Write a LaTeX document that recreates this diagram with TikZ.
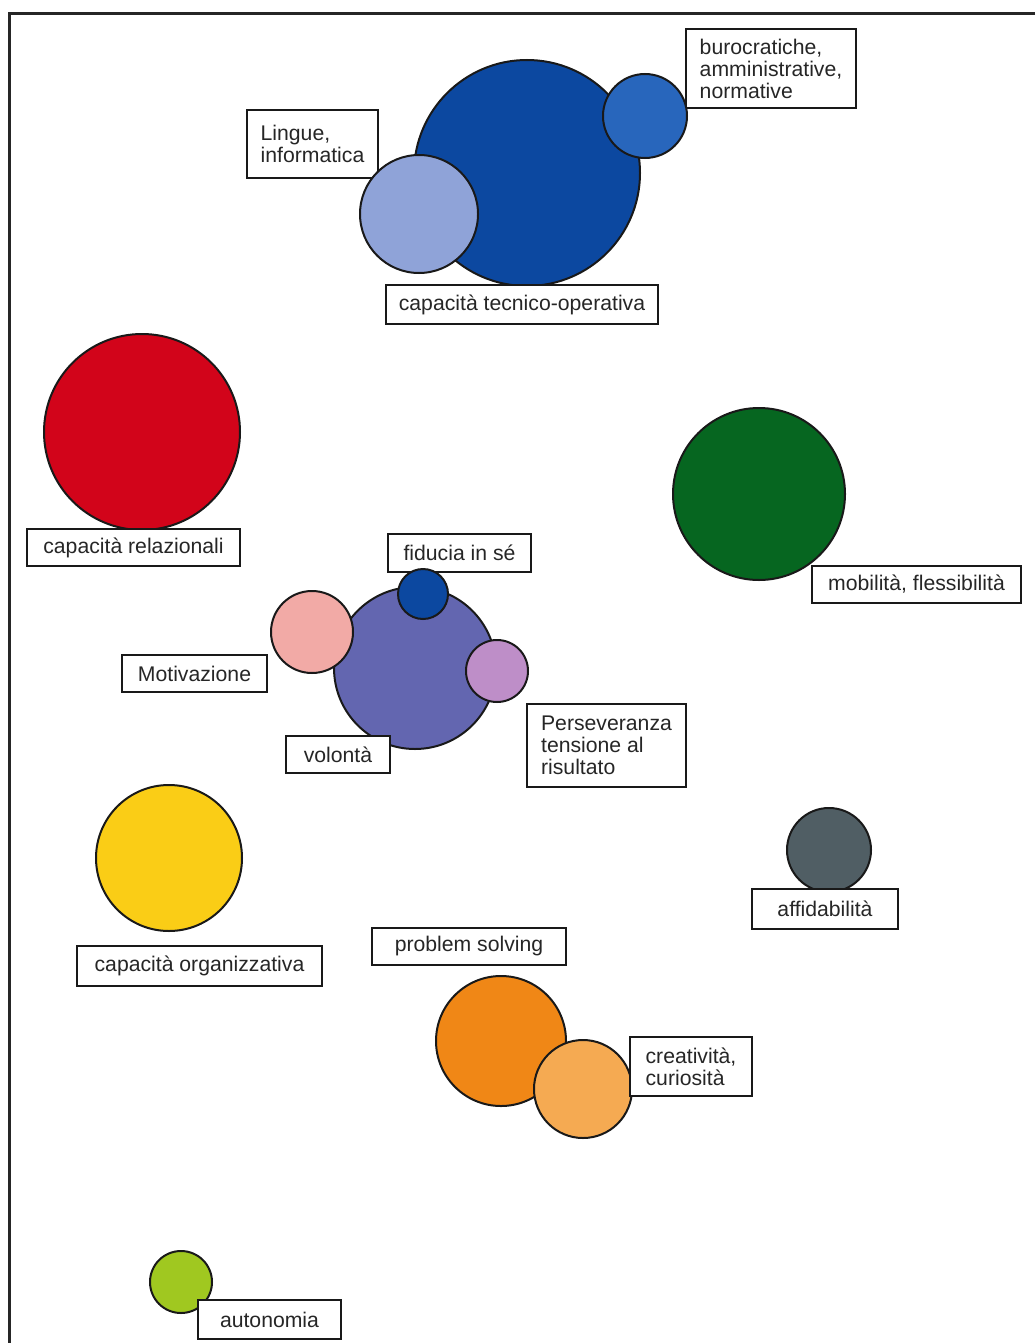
\documentclass[tikz,border=0pt]{standalone}
\usepackage{fontspec}
\setmainfont{Liberation Sans}
\usetikzlibrary{shapes,positioning}

\definecolor{techblue}{RGB}{12,72,160}
\definecolor{lightblue}{RGB}{143,163,216}
\definecolor{midblue}{RGB}{40,102,188}
\definecolor{relred}{RGB}{210,4,26}
\definecolor{mobgreen}{RGB}{6,102,32}
\definecolor{volpurple}{RGB}{99,102,176}
\definecolor{motpink}{RGB}{242,170,166}
\definecolor{perlilac}{RGB}{190,142,200}
\definecolor{orgyellow}{RGB}{250,205,22}
\definecolor{affgrey}{RGB}{80,94,100}
\definecolor{probcolor}{RGB}{240,135,22}
\definecolor{creacolor}{RGB}{245,170,82}
\definecolor{autlime}{RGB}{160,200,32}

\begin{document}
\begin{tikzpicture}[x=0.5pt,y=-0.5pt,
    bubble/.style={circle,draw=black!90,line width=1pt,inner sep=0pt},
    tag/.style={rectangle,draw=black!90,line width=1.1pt,fill=white,align=left,
        inner sep=0pt,text=black!85,font=\fontsize{10.6}{11}\selectfont}]
    \useasboundingbox (0,0) rectangle (1035,1343);

    % Frame
    \draw[line width=1.5pt,black!85] (1035,14) -- (9,14) -- (9,1343);

    % Capacita tecnico-operativa
    \node[bubble,fill=techblue,minimum size=113pt] (tecnica) at (527,173) {};
    \node[tag,minimum width=136pt,minimum height=19.5pt] (tecnicalbl) at (522,304.5) {capacità tecnico-operativa};
    \node[tag,minimum width=65.5pt,minimum height=34pt] (linguelbl) at (312.5,144) {Lingue,\\informatica};
    \node[tag,minimum width=85pt,minimum height=39.5pt] (burolbl) at (771,68.5) {burocratiche,\\amministrative,\\normative};
    \node[bubble,fill=lightblue,minimum size=59pt] (lingue) at (419,214) {};
    \node[bubble,fill=midblue,minimum size=42pt] (buro) at (645,116) {};

    % Capacita relazionali
    \node[bubble,fill=relred,minimum size=98pt] (relaz) at (142,432) {};
    \node[tag,minimum width=106.5pt,minimum height=18.5pt] (relazlbl) at (133.5,547.5) {capacità relazionali};

    % Mobilita
    \node[bubble,fill=mobgreen,minimum size=86pt] (mobil) at (759,494) {};
    \node[tag,minimum width=104.5pt,minimum height=18.5pt] (mobillbl) at (916.5,584.5) {mobilità, flessibilità};

    % Volonta
    \node[bubble,fill=volpurple,minimum size=81pt] (volonta) at (415,668) {};
    \node[tag,minimum width=71.5pt,minimum height=19pt] (fiducialbl) at (459.5,553) {fiducia in sé};
    \node[bubble,fill=motpink,minimum size=41pt] (motiv) at (312,632) {};
    \node[bubble,fill=techblue,minimum size=25pt] (fiducia) at (423,594) {};
    \node[bubble,fill=perlilac,minimum size=31pt] (persev) at (497,671) {};
    \node[tag,minimum width=72.5pt,minimum height=18.5pt] (motivlbl) at (194.5,673.5) {Motivazione};
    \node[tag,minimum width=52pt,minimum height=18.5pt] (volontalbl) at (338,754.5) {volontà};
    \node[tag,minimum width=79.5pt,minimum height=41.5pt] (persevlbl) at (606.5,745.5) {Perseveranza\\tensione al\\risultato};

    % Capacita organizzativa
    \node[bubble,fill=orgyellow,minimum size=73pt] (organ) at (169,858) {};
    \node[tag,minimum width=122.5pt,minimum height=20pt] (organlbl) at (199.5,966) {capacità organizzativa};

    % Affidabilita
    \node[bubble,fill=affgrey,minimum size=42pt] (affid) at (829,850) {};
    \node[tag,minimum width=73pt,minimum height=20pt] (affidlbl) at (825,909) {affidabilità};

    % Problem solving
    \node[tag,minimum width=97pt,minimum height=18.5pt] (problbl) at (469,946.5) {problem solving};
    \node[bubble,fill=probcolor,minimum size=65pt] (probl) at (501,1041) {};
    \node[bubble,fill=creacolor,minimum size=49pt] (creat) at (583,1089) {};
    \node[tag,minimum width=61pt,minimum height=29.5pt] (creatlbl) at (691,1066.5) {creatività,\\curiosità};

    % Autonomia
    \node[bubble,fill=autlime,minimum size=31pt] (auton) at (181,1282) {};
    \node[tag,minimum width=71.5pt,minimum height=19.5pt] (autonlbl) at (269.5,1319.5) {autonomia};
\end{tikzpicture}
\end{document}
